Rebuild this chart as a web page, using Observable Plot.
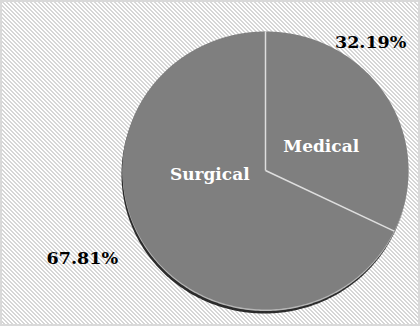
<!DOCTYPE html>
<html>
<head>
<meta charset="utf-8">
<script src="https://cdn.jsdelivr.net/npm/d3@7"></script>
<script src="https://cdn.jsdelivr.net/npm/@observablehq/plot@0.6"></script>
<style>
  html, body { margin: 0; padding: 0; background: #fff; }
  #chart { width: 420px; height: 326px; box-sizing: border-box; border: 2px solid #d9d9d9;
    background-color: #fff; background-repeat: repeat; }
  #chart svg { display: block; background: transparent; }
</style>
</head>
<body>
<div id="chart"></div>
<script>
const categories = ["Medical", "Surgical"];
const shares = [32.19, 67.81];
const pctLabels = ["32.19%", "67.81%"];

// hatched background tile
(function () {
  const c = document.createElement("canvas");
  c.width = 4; c.height = 4;
  const g = c.getContext("2d");
  g.fillStyle = "#ffffff"; g.fillRect(0, 0, 4, 4);
  g.fillStyle = "#d6d6d6";
  for (let y = 0; y < 4; y++) { g.fillRect(y % 4, y, 1, 1); g.fillRect((y + 1) % 4, y, 1, 1); }
  const el = document.getElementById("chart");
  el.style.backgroundImage = `url(${c.toDataURL()})`;
  el.style.backgroundSize = "4px 4px";
})();

const total = d3.sum(shares);
const slices = [];
let start = 0;
categories.forEach((c, i) => {
  const a0 = start, a1 = start + shares[i] / total * 2 * Math.PI;
  slices.push({name: c, a0, a1, mid: (a0 + a1) / 2, pct: pctLabels[i]});
  start = a1;
});

// slice outlines in unit coordinates (angle measured clockwise from 12 o'clock)
const pt = (a, r) => ({x: r * Math.sin(a), y: r * Math.cos(a)});
const polys = [];
slices.forEach(s => {
  polys.push({name: s.name, ...pt(0, 0)});
  const n = Math.max(2, Math.ceil((s.a1 - s.a0) / (Math.PI / 180)));
  for (let k = 0; k <= n; k++) polys.push({name: s.name, ...pt(s.a0 + (s.a1 - s.a0) * k / n, 1)});
  polys.push({name: s.name, ...pt(0, 0)});
});
const ellipse = d3.range(0, 361).map(d => ({name: "shadow", ...pt(d * Math.PI / 180, 1)}));
const seps = slices.map(s => ({x1: 0, y1: 0, x2: Math.sin(s.a0), y2: Math.cos(s.a0)}));
const mids = slices.map(s => ({name: s.name, pct: s.pct, ...pt(s.mid, 1), ix: 0.46 * Math.sin(s.mid), iy: 0.46 * Math.cos(s.mid)}));

const font = "'DejaVu Serif', serif";
const chart = Plot.plot({
  width: 416, height: 322,
  margin: 0,
  x: {domain: [-1, 1], range: [263 - 143, 263 + 143], axis: null},
  y: {domain: [-1, 1], range: [168 + 139, 168 - 139], axis: null},
  style: {background: "transparent"},
  marks: [
    Plot.line(ellipse, {x: "x", y: "y", fill: "#2b2b2b", stroke: "none", dy: 4, dx: -1}),
    Plot.line(ellipse, {x: "x", y: "y", fill: "#b5b5b5", stroke: "none", dy: 1.5}),
    Plot.line(polys, {x: "x", y: "y", z: "name", fill: "#7f7f7f", stroke: "none"}),
    Plot.link(seps, {x1: "x1", y1: "y1", x2: "x2", y2: "y2", stroke: "#dedede", strokeWidth: 1.5}),
    Plot.text(mids.filter(d => d.name === "Medical"), {x: "ix", y: "iy", text: "name", fill: "white", fontWeight: "bold", fontSize: 17, fontFamily: font, dy: 10}),
    Plot.text(mids.filter(d => d.name === "Surgical"), {x: "ix", y: "iy", text: "name", fill: "white", fontWeight: "bold", fontSize: 17, fontFamily: font, dy: -30}),
    Plot.text(mids.filter(d => d.name === "Medical"), {x: "x", y: "y", text: "pct", fill: "black", fontWeight: "bold", fontSize: 17.5, fontFamily: font, dx: -16, dy: -54}),
    Plot.text(mids.filter(d => d.name === "Surgical"), {x: "x", y: "y", text: "pct", fill: "black", fontWeight: "bold", fontSize: 17.5, fontFamily: font, dx: -62, dy: 14})
  ]
});
document.getElementById("chart").appendChild(chart);
</script>
</body>
</html>
